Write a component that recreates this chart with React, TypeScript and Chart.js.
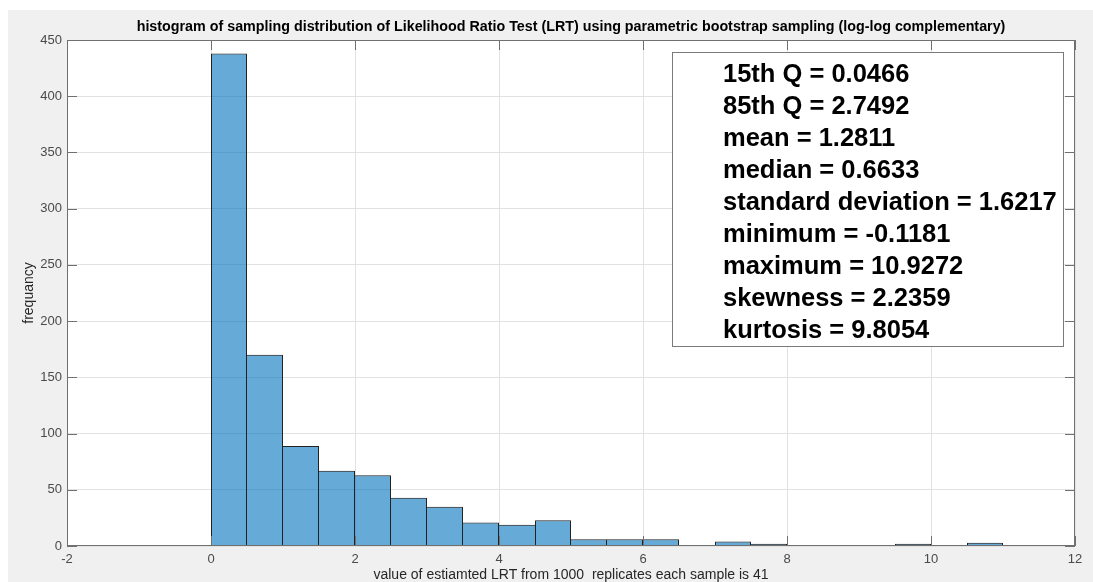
import React, { useEffect, useRef } from "react";
import { Chart, registerables } from "chart.js";

Chart.register(...registerables);

// Histogram bin edges (width 0.5) and the count in each bin
const binEdges = [
  -0.5, 0, 0.5, 1, 1.5, 2, 2.5, 3, 3.5, 4, 4.5, 5, 5.5, 6, 6.5, 7, 7.5, 8, 8.5,
  9, 9.5, 10, 10.5, 11,
];
const binCounts = [
  1, 438, 170, 89, 67, 63, 43, 35, 21, 19, 23, 6, 6, 6, 0, 4, 2, 0, 1, 0, 2, 1, 3,
];

const xTicks = [-2, 0, 2, 4, 6, 8, 10, 12];
const yTicks = [0, 50, 100, 150, 200, 250, 300, 350, 400, 450];

const titleText =
  "histogram of sampling distribution of Likelihood Ratio Test (LRT) using parametric bootstrap sampling (log-log complementary)";
const xLabel = "value of estiamted LRT from 1000  replicates each sample is 41";
const yLabel = "frequancy";

const statLines = [
  "15th Q = 0.0466",
  "85th Q = 2.7492",
  "mean = 1.2811",
  "median = 0.6633",
  "standard deviation = 1.6217",
  "minimum = -0.1181",
  "maximum = 10.9272",
  "skewness = 2.2359",
  "kurtosis = 9.8054",
];

const W = 1093;
const H = 582;
const FONT = "'Liberation Sans', Arial, Helvetica, sans-serif";

// Axes frame, inward tick marks, title, axis labels and the statistics box
const decorations = {
  id: "matlabDecorations",
  beforeDraw(chart: any) {
    const { ctx, chartArea: a } = chart;
    ctx.save();
    ctx.fillStyle = "#ffffff";
    ctx.fillRect(a.left, a.top, a.right - a.left, a.bottom - a.top);
    ctx.restore();
  },
  afterDraw(chart: any) {
    const { ctx, chartArea: a, scales } = chart;
    const xs = scales.x;
    const ys = scales.y;
    ctx.save();

    // frame
    ctx.strokeStyle = "#707070";
    ctx.lineWidth = 1;
    ctx.strokeRect(a.left + 0.5, a.top + 0.5, a.right - a.left - 1, a.bottom - a.top - 1);

    // inward ticks on all four sides
    const tl = 10;
    ctx.beginPath();
    xTicks.forEach((v) => {
      const px = Math.round(xs.getPixelForValue(v)) + 0.5;
      ctx.moveTo(px, a.bottom);
      ctx.lineTo(px, a.bottom - tl);
      ctx.moveTo(px, a.top);
      ctx.lineTo(px, a.top + tl);
    });
    yTicks.forEach((v) => {
      const py = Math.round(ys.getPixelForValue(v)) + 0.5;
      ctx.moveTo(a.left, py);
      ctx.lineTo(a.left + tl, py);
      ctx.moveTo(a.right, py);
      ctx.lineTo(a.right - tl, py);
    });
    ctx.stroke();

    // title
    const cx = (a.left + a.right) / 2;
    ctx.fillStyle = "#000000";
    ctx.font = `bold 14.3px ${FONT}`;
    ctx.textAlign = "center";
    ctx.textBaseline = "middle";
    ctx.fillText(titleText, cx, 27);

    // axis labels
    ctx.fillStyle = "#262626";
    ctx.font = `14px ${FONT}`;
    ctx.fillText(xLabel, cx, 575);
    ctx.save();
    ctx.translate(29, (a.top + a.bottom) / 2);
    ctx.rotate(-Math.PI / 2);
    ctx.fillText(yLabel, 0, 0);
    ctx.restore();

    // statistics box
    const bx = 672.5;
    const by = 52.5;
    const bw = 391;
    const bh = 294;
    ctx.fillStyle = "#ffffff";
    ctx.fillRect(bx, by, bw, bh);
    ctx.strokeStyle = "#7a7a7a";
    ctx.strokeRect(bx, by, bw, bh);
    ctx.fillStyle = "#000000";
    ctx.font = `bold 25.5px ${FONT}`;
    ctx.textAlign = "left";
    ctx.textBaseline = "alphabetic";
    statLines.forEach((s, i) => {
      ctx.fillText(s, 723, 82 + i * 32);
    });

    ctx.restore();
  },
};

export default function App() {
  const canvasRef = useRef<HTMLCanvasElement | null>(null);

  useEffect(() => {
    const canvas = canvasRef.current;
    if (!canvas) return;

    const points = binCounts.map((c, i) => ({
      x: (binEdges[i] + binEdges[i + 1]) / 2,
      y: c,
    }));

    // one shared edge between neighbouring bars: the taller bar draws it
    const edgeWidths = (ctx: any) => {
      const i = ctx.dataIndex;
      const c = binCounts[i] ?? 0;
      const prev = i > 0 ? binCounts[i - 1] : 0;
      const next = i < binCounts.length - 1 ? binCounts[i + 1] : 0;
      if (c <= 0) return 0;
      return {
        top: 1,
        left: c > prev ? 1 : 0,
        right: c >= next ? 1 : 0,
        bottom: 0,
      };
    };

    const chart = new Chart(canvas, {
      type: "bar",
      data: {
        datasets: [
          {
            data: points,
            backgroundColor: "rgba(0, 114, 189, 0.6)",
            borderColor: "#222222",
            borderWidth: edgeWidths as any,
            borderSkipped: false,
            inflateAmount: 0,
            barPercentage: 1,
            categoryPercentage: 1,
          },
        ],
      },
      options: {
        animation: false,
        responsive: false,
        devicePixelRatio: 1,
        layout: { padding: { left: 0, right: W - 1075, top: 40, bottom: 0 } },
        plugins: {
          legend: { display: false },
          tooltip: { enabled: false },
          title: { display: false },
        },
        scales: {
          x: {
            type: "linear",
            min: -2,
            max: 12,
            offset: false,
            afterFit: (s: any) => {
              s.height = H - 546;
            },
            afterBuildTicks: (s: any) => {
              s.ticks = xTicks.map((v) => ({ value: v }));
            },
            ticks: {
              color: "#4a4a4a",
              font: { family: FONT, size: 13 },
              padding: 6,
              maxRotation: 0,
            },
            grid: { color: "#e2e2e2", drawTicks: false, offset: false },
            border: { display: false },
          },
          y: {
            type: "linear",
            min: 0,
            max: 450,
            afterFit: (s: any) => {
              s.width = 67;
            },
            afterBuildTicks: (s: any) => {
              s.ticks = yTicks.map((v) => ({ value: v }));
            },
            ticks: {
              color: "#4a4a4a",
              font: { family: FONT, size: 13 },
              padding: 5,
            },
            grid: { color: "#e2e2e2", drawTicks: false },
            border: { display: false },
          },
        },
      },
      plugins: [decorations],
    });

    return () => chart.destroy();
  }, []);

  return (
    <div
      style={{
        position: "fixed",
        left: 0,
        top: 0,
        width: W,
        height: H,
        background: "#ffffff",
        overflow: "hidden",
      }}
    >
      <div
        style={{
          position: "absolute",
          left: 8,
          top: 10,
          right: 0,
          bottom: 0,
          background: "#f0f0f0",
        }}
      />
      <canvas
        ref={canvasRef}
        width={W}
        height={H}
        style={{ position: "absolute", left: 0, top: 0, width: W, height: H }}
      />
    </div>
  );
}
